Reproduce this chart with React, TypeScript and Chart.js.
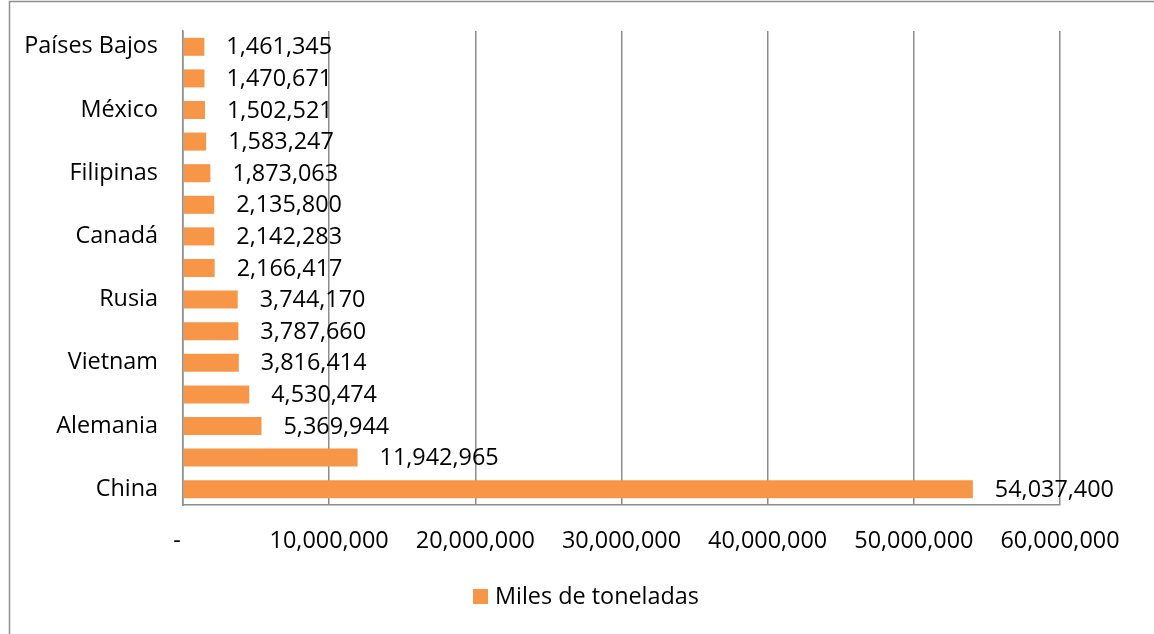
import React, { useEffect, useRef } from "react";
import { Chart, registerables } from "chart.js";

Chart.register(...registerables);

// Categories top to bottom (only every other label is shown on the axis, as in the reference)
const categories: string[] = [
  "Países Bajos",
  "Corea del Sur",
  "México",
  "Dinamarca",
  "Filipinas",
  "Francia",
  "Canadá",
  "Polonia",
  "Rusia",
  "Brasil",
  "Vietnam",
  "España",
  "Alemania",
  "Estados Unidos",
  "China",
];

const values: number[] = [
  1461345, 1470671, 1502521, 1583247, 1873063, 2135800, 2142283, 2166417,
  3744170, 3787660, 3816414, 4530474, 5369944, 11942965, 54037400,
];

const seriesName = "Miles de toneladas";
const xMin = 0;
const xMax = 60000000;
const xStep = 10000000;

const FONT = "'Open Sans', 'DejaVu Sans', sans-serif";
const FONT_SIZE = 23.4;
const BAR_COLOR = "#F79646";
const GRID_COLOR = "#8c8c8c";
const TEXT_COLOR = "#000000";

const fmt = (v: number) => v.toLocaleString("en-US");

const framePlugin = {
  id: "frame",
  beforeDraw(chart: any) {
    const ctx = chart.ctx;
    ctx.save();
    ctx.fillStyle = "#ffffff";
    ctx.fillRect(0, 0, chart.width, chart.height);
    ctx.strokeStyle = "#8f8f8f";
    ctx.lineWidth = 1.5;
    ctx.strokeRect(9.5, 1.5, chart.width + 50, chart.height + 50);
    ctx.restore();
  },
};

const dataLabelPlugin = {
  id: "dataLabels",
  afterDatasetsDraw(chart: any) {
    const ctx = chart.ctx;
    const meta = chart.getDatasetMeta(0);
    const data = chart.data.datasets[0].data as number[];
    ctx.save();
    ctx.font = `${FONT_SIZE}px ${FONT}`;
    ctx.fillStyle = TEXT_COLOR;
    ctx.textAlign = "left";
    ctx.textBaseline = "middle";
    meta.data.forEach((bar: any, i: number) => {
      ctx.fillText(fmt(data[i]), bar.x + 22, bar.y + 1);
    });
    ctx.restore();
  },
};

const legendPlugin = {
  id: "customLegend",
  afterDraw(chart: any) {
    const ctx = chart.ctx;
    ctx.save();
    ctx.fillStyle = BAR_COLOR;
    ctx.fillRect(473, 589, 15, 15);
    ctx.font = `${FONT_SIZE}px ${FONT}`;
    ctx.fillStyle = TEXT_COLOR;
    ctx.textAlign = "left";
    ctx.textBaseline = "middle";
    ctx.fillText(chart.data.datasets[0].label, 495, 597);
    ctx.restore();
  },
};

export default function App() {
  const ref = useRef<HTMLCanvasElement | null>(null);

  useEffect(() => {
    if (!ref.current) return;
    const chart = new Chart(ref.current, {
      type: "bar",
      data: {
        labels: categories,
        datasets: [
          {
            label: seriesName,
            data: values,
            backgroundColor: BAR_COLOR,
            borderWidth: 0,
            barPercentage: 0.57,
            categoryPercentage: 1,
          },
        ],
      },
      options: {
        indexAxis: "y",
        animation: false,
        responsive: true,
        maintainAspectRatio: false,
        layout: { padding: { left: 0, top: 31, right: 94, bottom: 0 } },
        plugins: {
          legend: { display: false },
          tooltip: { enabled: false },
        },
        scales: {
          x: {
            min: xMin,
            max: xMax,
            afterFit: (scale: any) => {
              scale.height = 129;
            },
            ticks: {
              stepSize: xStep,
              padding: 22,
              color: TEXT_COLOR,
              font: { family: FONT, size: FONT_SIZE },
              maxRotation: 0,
              callback: (v: any) => (Number(v) === 0 ? "-  " : fmt(Number(v))),
            },
            grid: {
              color: GRID_COLOR,
              lineWidth: 1.5,
              drawTicks: false,
            },
            border: { display: true, color: GRID_COLOR, width: 1.5 },
          },
          y: {
            afterFit: (scale: any) => {
              scale.width = 183;
            },
            ticks: {
              autoSkip: false,
              padding: 0,
              color: TEXT_COLOR,
              font: { family: FONT, size: FONT_SIZE },
              callback: (_v: any, i: number) => (i % 2 === 0 ? categories[i] : ""),
            },
            grid: { display: false, drawTicks: true, tickLength: 25 },
            border: { display: true, color: GRID_COLOR, width: 1.5 },
          },
        },
      },
      plugins: [framePlugin, dataLabelPlugin, legendPlugin],
    });
    return () => chart.destroy();
  }, []);

  return (
    <div style={{ position: "absolute", left: 0, top: 0, width: 1154, height: 634 }}>
      <canvas ref={ref} />
    </div>
  );
}
